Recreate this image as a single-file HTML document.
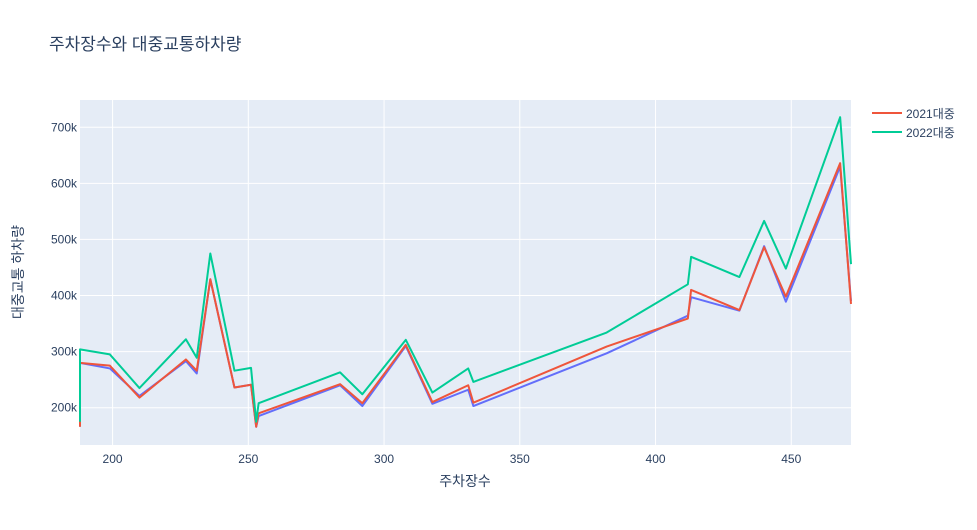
<!DOCTYPE html>
<html><head><meta charset="utf-8">
<style>
body{margin:0;background:#fff;font-family:"Liberation Sans","Noto Sans CJK KR",sans-serif;}
svg text{font-family:"Liberation Sans","Noto Sans CJK KR",sans-serif;}
</style></head>
<body>
<svg id="chart" width="977" height="525">
<rect x="0" y="0" width="977" height="525" fill="#fff"/>
<text x="49" y="50" font-size="17" fill="#2a3f5f">주차장수와 대중교통하차량</text>
<rect x="80" y="100" width="771" height="345" fill="#e5ecf6"/>
<g id="grid"></g>
<g id="series"></g>
<g id="ticks"></g>
<text x="465" y="486" font-size="14" fill="#2a3f5f" text-anchor="middle">주차장수</text>
<text transform="translate(23,272) rotate(-90)" font-size="14" fill="#2a3f5f" text-anchor="middle">대중교통 하차량</text>
<g>
<g><line x1="872" y1="113" x2="902" y2="113" stroke="#EF553B" stroke-width="2"/><text x="906" y="118" font-size="12" fill="#2a3f5f">2021대중</text></g>
<g><line x1="872" y1="132" x2="902" y2="132" stroke="#00cc96" stroke-width="2"/><text x="906" y="137" font-size="12" fill="#2a3f5f">2022대중</text></g>
</g>
</svg>
<script>
const xs = [188,188,199,209.9,227,231,236,244.9,251,252.9,253.8,283.8,292,308,317.8,331,332.9,382,411.9,413.1,430.9,440,448,468,472];
const s2020 = [166,280,270,221,283,261,429,236,241,166,185,240,203,310,207,232,203,297,364,397,373,488,389,630,390];
const s2021 = [166,280,275,218,286,266,429,236,241,166,190,242,208,312,210,240,209,309,359,410,374,486,398,636,385];
const s2022 = [175,304,295,235,322,289,475,266,271,175,208,263,224,321,227,270,246,334,420,469,433,533,448,718,456];
const xTicks = [200,250,300,350,400,450];
const yTicks = [200,300,400,500,600,700];
const X0=80,X1=851,Y0=445,Y1=100,XMIN=188,XMAX=472,YMIN=133.5,YMAX=748.6;
function sx(v){return X0+(v-XMIN)/(XMAX-XMIN)*(X1-X0);}
function sy(v){return Y0-(v-YMIN)/(YMAX-YMIN)*(Y0-Y1);}
const NS='http://www.w3.org/2000/svg';
const grid=document.getElementById('grid'),ticks=document.getElementById('ticks'),ser=document.getElementById('series');
xTicks.forEach(t=>{
  const l=document.createElementNS(NS,'line');
  l.setAttribute('x1',sx(t));l.setAttribute('x2',sx(t));l.setAttribute('y1',Y1);l.setAttribute('y2',Y0);
  l.setAttribute('stroke','#fff');l.setAttribute('stroke-width','1');
  
  
  grid.appendChild(l);
  const tx=document.createElementNS(NS,'text');
  tx.setAttribute('x',sx(t));tx.setAttribute('y',Y0+18);tx.setAttribute('font-size','12');tx.setAttribute('fill','#2a3f5f');tx.setAttribute('text-anchor','middle');
  tx.textContent=t;
  
  
  ticks.appendChild(tx);
});
yTicks.forEach(t=>{
  const l=document.createElementNS(NS,'line');
  l.setAttribute('x1',X0);l.setAttribute('x2',X1);l.setAttribute('y1',sy(t));l.setAttribute('y2',sy(t));
  l.setAttribute('stroke','#fff');l.setAttribute('stroke-width','1');
  
  
  grid.appendChild(l);
  const tx=document.createElementNS(NS,'text');
  tx.setAttribute('x',X0-3);tx.setAttribute('y',sy(t)+4);tx.setAttribute('font-size','12');tx.setAttribute('fill','#2a3f5f');tx.setAttribute('text-anchor','end');
  tx.textContent=t+'k';
  
  
  ticks.appendChild(tx);
});
function draw(vals,color,name){
  const p=document.createElementNS(NS,'polyline');
  p.setAttribute('points',vals.map((v,i)=>sx(xs[i])+','+sy(v)).join(' '));
  p.setAttribute('fill','none');p.setAttribute('stroke',color);p.setAttribute('stroke-width','2');p.setAttribute('stroke-linejoin','round');
  
  
  ser.appendChild(p);
}
draw(s2020,'#636efa','series-2020-line');
draw(s2021,'#EF553B','series-2021-line');
draw(s2022,'#00cc96','series-2022-line');
</script>
</body></html>
